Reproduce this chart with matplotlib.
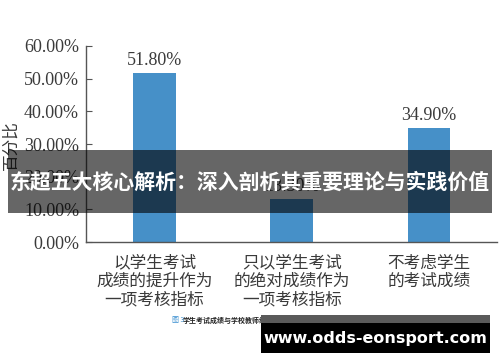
import matplotlib
matplotlib.use('Agg')
import matplotlib.pyplot as plt
from matplotlib.patches import Rectangle

categories = ['以学生考试\n成绩的提升作为\n一项考核指标',
              '只以学生考试\n的绝对成绩作为\n一项考核指标',
              '不考虑学生\n的考试成绩']
values = [51.80, 13.30, 34.90]
yticks = [0, 10, 20, 30, 40, 50, 60]
ylabel = '百分比'
banner = '东超五大核心解析：深入剖析其重要理论与实践价值'
watermark = 'www.odds-eonsport.com'
caption_num = '图 3'
caption = '学生考试成绩与学校教师绩效考核的关系'

serif = ['Liberation Serif', 'Noto Sans CJK SC']
cjk = ['Noto Sans CJK SC', 'DejaVu Sans']
txt_color = '#3a3a3a'

fig = plt.figure(figsize=(5, 3.62), dpi=100)
ax = fig.add_axes([0.172, 0.331, 0.823, 0.542])
x = list(range(len(values)))
ax.bar(x, values, width=0.31, color='#4690c8', zorder=2)
ax.set_xlim(-0.5, 2.5)
ax.set_ylim(0, 60)
ax.set_yticks(yticks)
ax.set_yticklabels([f'{v:.2f}%' for v in yticks], family=serif, fontsize=13, color=txt_color)
ax.set_xticks(x)
ax.set_xticklabels(categories, family=cjk, fontsize=12, color=txt_color, linespacing=1.1)
ax.tick_params(axis='y', direction='in', length=4, pad=5, color='#555555')
ax.tick_params(axis='x', length=0, pad=9)
for s in ['top', 'right']:
    ax.spines[s].set_visible(False)
for s in ['left', 'bottom']:
    ax.spines[s].set_color('#555555')
    ax.spines[s].set_linewidth(1.0)

for i, v in enumerate(values):
    ax.annotate(f'{v:.2f}%', (i, v), xytext=(0, 3), textcoords='offset points',
                ha='center', va='bottom', family=serif, fontsize=13, color=txt_color)

fig.text(0.022, 0.60, ylabel, rotation=90, ha='center', va='center',
         family=cjk, fontsize=12, color=txt_color)

# caption
fig.text(0.344, 0.116, caption_num, ha='left', va='center', family=cjk, fontsize=5, color='#3a8fd0')
fig.text(0.366, 0.116, caption, ha='left', va='center', family=cjk, fontsize=5,
         color='#222222', weight='bold')

# banner overlay
fig.patches.append(Rectangle((0.016, 0.4116), 0.968, 0.174, transform=fig.transFigure,
                             facecolor='black', alpha=0.6, edgecolor='none', zorder=10))
fig.text(0.5, 0.497, banner, ha='center', va='center', family=cjk, fontsize=15,
         weight='bold', color='white', zorder=11)

# watermark
fig.patches.append(Rectangle((0.522, 0.108), 0.458, 0.022, transform=fig.transFigure,
                             facecolor='#5a5a5a', edgecolor='none', zorder=10))
fig.patches.append(Rectangle((0.522, 0.025), 0.458, 0.083, transform=fig.transFigure,
                             facecolor='black', edgecolor='none', zorder=10))
fig.text(0.75, 0.066, watermark, ha='center', va='center', family='DejaVu Sans',
         fontsize=11.5, weight='bold', color='white', zorder=11)

fig.savefig('out.png', dpi=100)
